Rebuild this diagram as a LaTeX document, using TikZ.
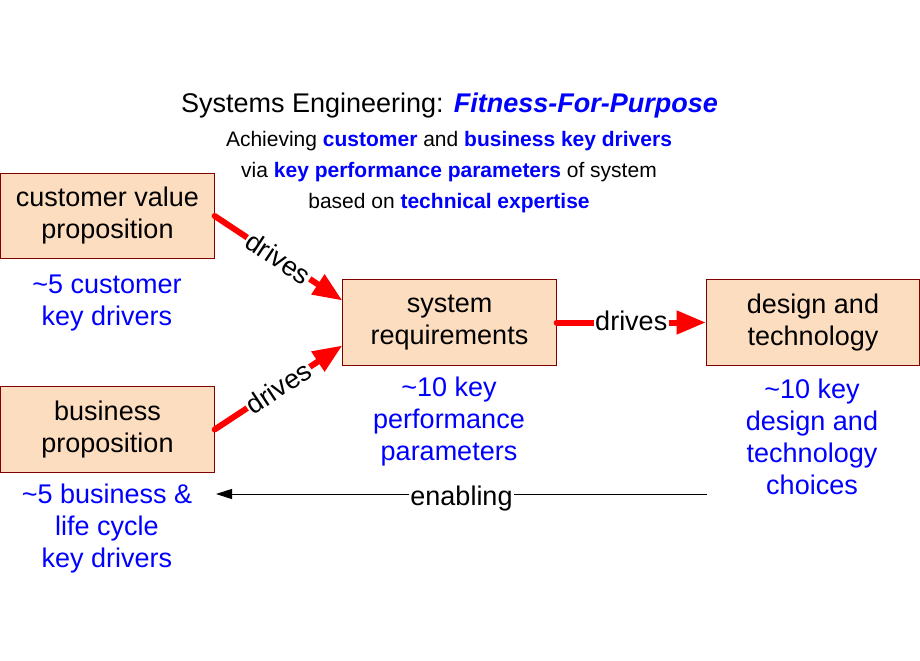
\documentclass[tikz,border=0pt]{standalone}
\usepackage{fontspec}
\setmainfont{Liberation Sans}
\usepackage{tikz}
\usetikzlibrary{arrows.meta, calc}
\usepackage{xcolor}

\definecolor{boxfill}{RGB}{253,221,192}
\definecolor{boxline}{RGB}{128,0,0}
\tikzset{
  propbox/.style={draw=boxline, line width=0.75pt, fill=boxfill, minimum width=160pt, minimum height=64pt, inner sep=0pt, align=center, font=\fontsize{20.25}{24}\selectfont},
  driverlbl/.style={text=blue, align=center, font=\fontsize{20.25}{24}\selectfont},
  drivesarrow/.style={draw=red, line width=4.5pt, line cap=round, -{Triangle[length=22pt,width=17pt]}},
  enablearrow/.style={draw=black, line width=0.75pt, -{Triangle[length=12pt,width=7.5pt]}},
  arrowlbl/.style={fill=white, inner sep=1pt, font=\fontsize{20.25}{24}\selectfont},
}

\begin{document}
\begin{tikzpicture}[x=0.75pt,y=0.75pt,yscale=-1,xscale=1]
\useasboundingbox (0,0) rectangle (920,660);

% Text Node
\node (title) at (449.5,106) [font=\fontsize{20.25}{24}\selectfont] {Systems Engineering: \textcolor{blue}{\textbf{\textit{Fitness-For-Purpose}}}};
% Text Node
\node (subtitle) at (449,172) [align=center, font=\fontsize{15.75}{23.25}\selectfont] {Achieving \textcolor{blue}{\textbf{customer}} and \textcolor{blue}{\textbf{business key drivers}}\\via \textcolor{blue}{\textbf{key performance parameters}} of system\\based on \textcolor{blue}{\textbf{technical expertise}}};

%Shape: Rectangle [customer value proposition]
\node (cvp) at (107.5,216) [propbox] {customer value\\proposition};
%Shape: Rectangle [business proposition]
\node (bp) at (107.5,429.5) [propbox] {business\\proposition};
%Shape: Rectangle [system requirements]
\node (sr) at (449.5,322.5) [propbox] {system\\requirements};
%Shape: Rectangle [design and technology]
\node (dt) at (813,322.5) [propbox] {design and\\technology};

% Text Node
\node (cvpkd) at (107,303) [driverlbl] {\textasciitilde5 customer\\key drivers};
% Text Node
\node (bpkd) at (107,529) [driverlbl] {\textasciitilde5 business \&\\life cycle\\key drivers};
% Text Node
\node (srkp) at (449,422) [driverlbl] {\textasciitilde10 key\\performance\\parameters};
% Text Node
\node (dtkc) at (812,437) [driverlbl] {\textasciitilde10 key\\design and\\technology\\choices};

%Straight Lines [drives]
\draw [drivesarrow] (cvp.east) -- node [arrowlbl, rotate=-33.4] {drives} ($(sr.west)+(0,-22)$);
%Straight Lines [drives]
\draw [drivesarrow] (bp.east) -- node [arrowlbl, rotate=33.4] {drives} ($(sr.west)+(0,23)$);
%Straight Lines [drives]
\draw [drivesarrow] (sr.east) -- node [arrowlbl, text depth=3.4pt] {drives} (dt.west);

%Straight Lines [enabling]
\coordinate (enfrom) at (707,494);
\coordinate (ento) at (216,494);
\draw [enablearrow] (enfrom) -- node [arrowlbl, text height=18pt, text depth=1.5pt] {enabling} (ento);

\end{tikzpicture}
\end{document}
